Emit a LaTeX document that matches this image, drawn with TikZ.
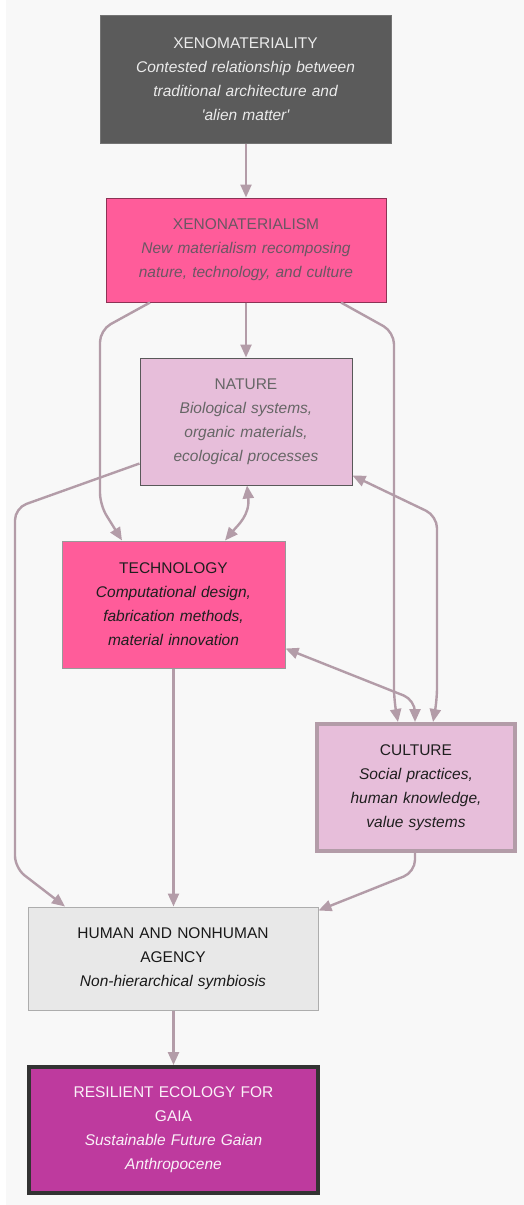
\documentclass[tikz,border=0pt]{standalone}
\usepackage{fontspec}
\setmainfont{Liberation Sans}
\usetikzlibrary{arrows.meta,calc}

\definecolor{bg}{HTML}{F8F8F8}
\definecolor{edgec}{HTML}{B39CA8}
\definecolor{darkbox}{HTML}{5B5B5B}
\definecolor{hotpink}{HTML}{FF5C9A}
\definecolor{lightpink}{HTML}{E7BEDA}
\definecolor{greybox}{HTML}{E8E8E8}
\definecolor{gaia}{HTML}{BE3A9E}
\definecolor{mutedtxt}{HTML}{6B5763}

\tikzset{
  box/.style={draw, rectangle, inner sep=0pt, align=center,
    font=\fontsize{15.5}{24}\selectfont, line width=1pt},
  edge/.style={draw=edgec, line width=2.4pt, rounded corners=12pt,
    -{Triangle[length=13pt,width=11pt]}},
  biedge/.style={edge, {Triangle[length=13pt,width=11pt]}-{Triangle[length=13pt,width=11pt]}},
}

\begin{document}
\begin{tikzpicture}[x=1pt, y=-1pt]
  \useasboundingbox (0,0) rectangle (524,1205);
  \fill[white] (0,0) rectangle (524,1205);
  \fill[bg] (6,0) rectangle (524,1205);

  % nodes
  \node[box, fill=darkbox, draw=darkbox!85!white, text=white!92!black,
        minimum width=291pt, minimum height=128pt, text width=260pt]
    (top) at (245.5,79)
    {XENOMATERIALITY\\\itshape Contested relationship between\\\itshape traditional architecture and\\\itshape \textquotesingle alien matter\textquotesingle};

  \node[box, fill=hotpink, draw=hotpink!55!black, text=mutedtxt,
        minimum width=280pt, minimum height=104pt, text width=260pt]
    (xen) at (246,250)
    {XENONATERIALISM\\\itshape New materialism recomposing\\\itshape nature, technology, and culture};

  \node[box, fill=lightpink, draw=black!65, text=black!60,
        minimum width=212pt, minimum height=127pt, text width=200pt]
    (nat) at (246,421.5)
    {NATURE\\\itshape Biological systems,\\\itshape organic materials,\\\itshape ecological processes};

  \node[box, fill=hotpink, draw=black!40, text=black!88,
        minimum width=223pt, minimum height=127pt, text width=210pt]
    (tech) at (173.5,604.5)
    {TECHNOLOGY\\\itshape Computational design,\\\itshape fabrication methods,\\\itshape material innovation};

  \node[box, fill=lightpink, draw=edgec, line width=4pt, text=black!88,
        minimum width=198pt, minimum height=127pt, text width=185pt]
    (cul) at (416,787.5)
    {CULTURE\\\itshape Social practices,\\\itshape human knowledge,\\\itshape value systems};

  \node[box, fill=greybox, draw=black!32, text=black!90,
        minimum width=290pt, minimum height=103pt, text width=260pt]
    (hum) at (173,958.5)
    {HUMAN AND NONHUMAN\\AGENCY\\\itshape Non-hierarchical symbiosis};

  \node[box, fill=gaia, draw=black!80, line width=4pt, text=white!93!gaia,
        minimum width=289pt, minimum height=126pt, text width=260pt]
    (res) at (173.5,1130)
    {RESILIENT ECOLOGY FOR\\GAIA\\\itshape Sustainable Future Gaian\\\itshape Anthropocene};

  % connectors (y grows downwards, so a positive yshift moves a point up)
  \draw[edge] (top.south -| xen.north) -- (xen.north);
  \draw[edge] (xen.south) -- (nat.north);

  \draw[edge] ([xshift=-96pt]xen.south) -- (100,330) -- (100,505)
              -- ([xshift=-51.5pt]tech.north);
  \draw[edge] ([xshift=95pt]xen.south) -- (394,332) -- (394,700)
              -- ([xshift=-18pt]cul.north);

  \draw[biedge] ([yshift=10pt]nat.south east) -- (437,516) -- (437,700)
                -- ([xshift=17pt]cul.north);
  \draw[biedge] ([yshift=20pt]tech.south east) -- (415,700)
                -- ([xshift=-1pt]cul.north);
  \draw[biedge] ([xshift=1pt]nat.south) .. controls (250,515) and (238,525)
                .. ([xshift=51.5pt]tech.north);

  \draw[edge] ([yshift=22pt]nat.south west) -- (15,508) -- (15,868)
              -- ([xshift=-108pt]hum.north);
  \draw[edge] (tech.south) -- (tech.south |- hum.north);
  \draw[edge] ([xshift=-1pt]cul.south) -- (415,872) -- ([yshift=-4pt]hum.north east);
  \draw[edge] (hum.south -| res.north) -- (res.north);
\end{tikzpicture}
\end{document}
